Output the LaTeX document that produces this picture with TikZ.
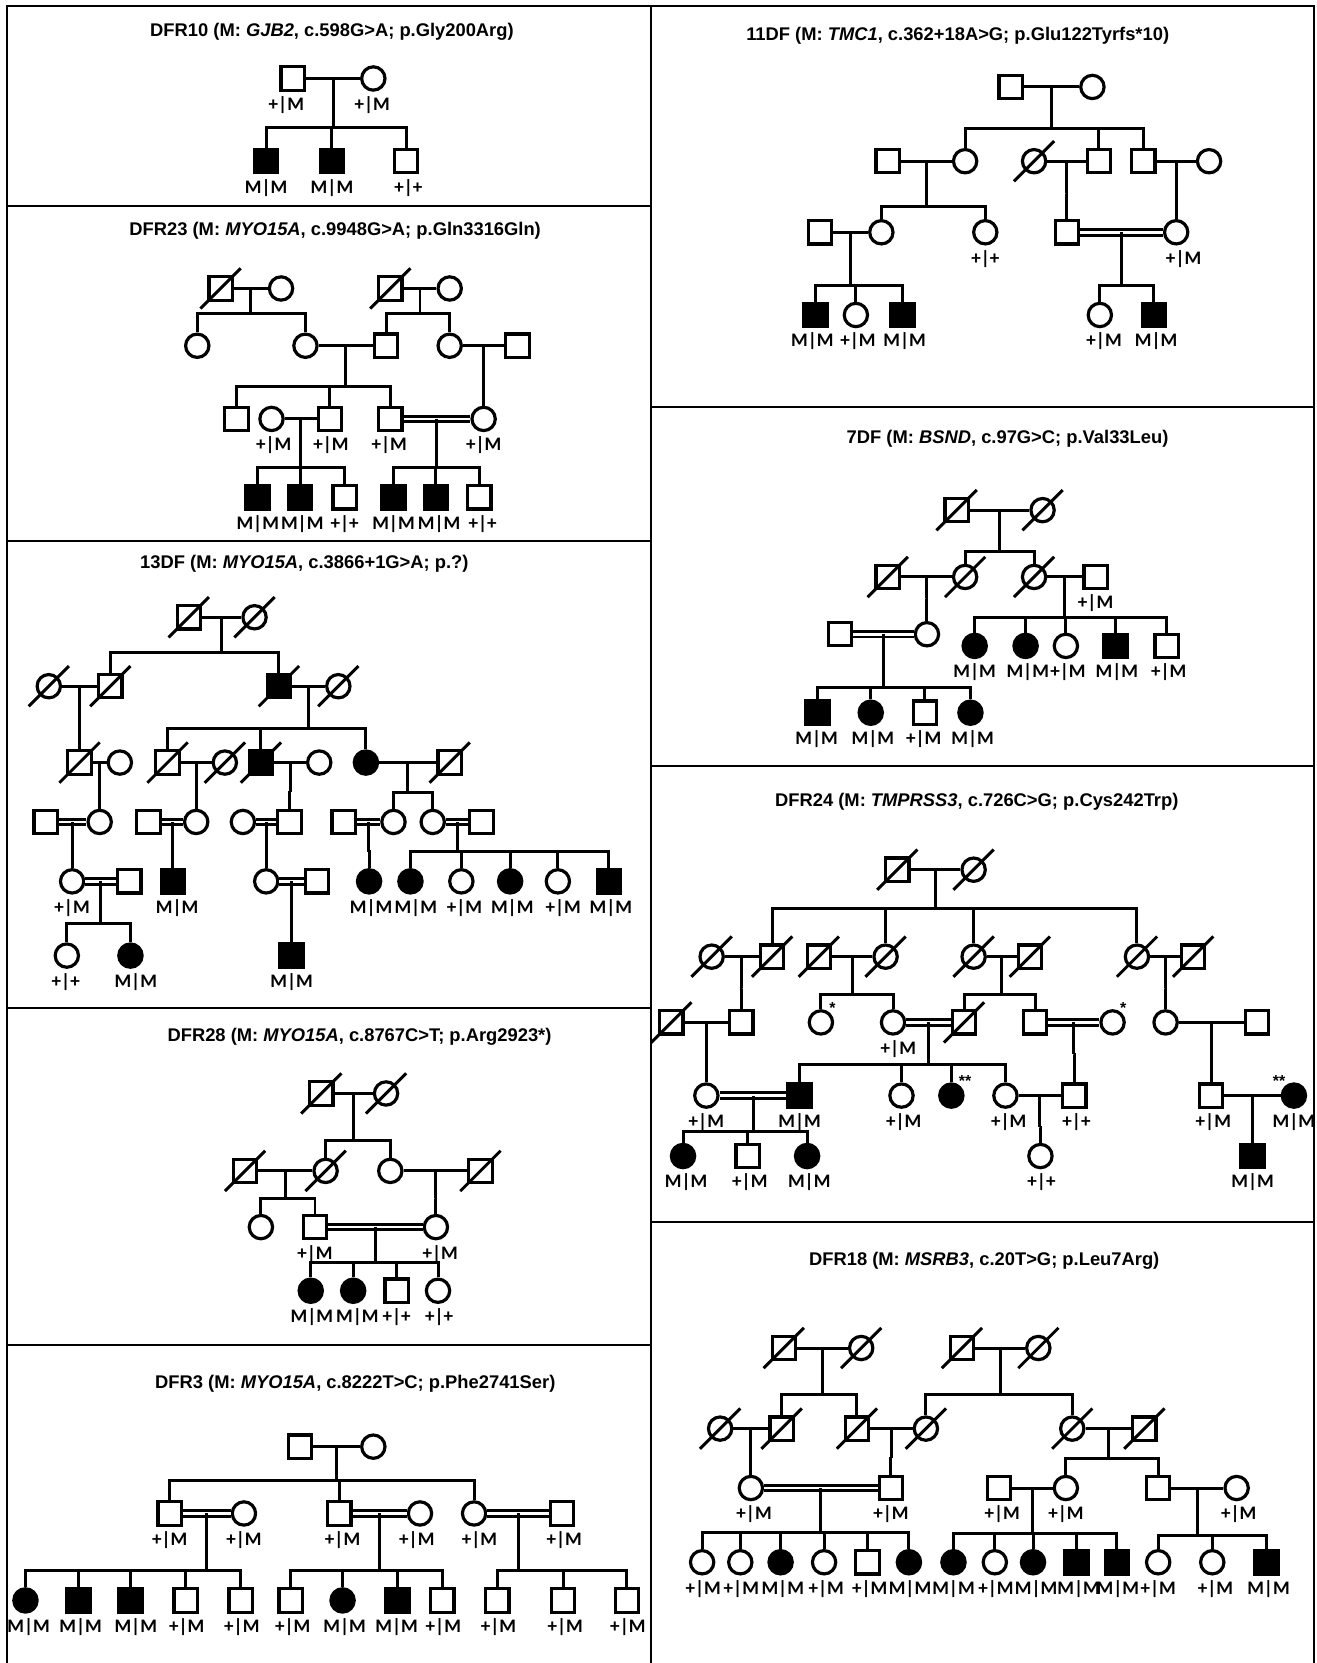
\documentclass[tikz,border=0pt]{standalone}
\usepackage{fontspec}
\newfontfamily\titlefont{Liberation Sans}
\newfontfamily\genofont{Carlito}
\usetikzlibrary{calc}

\tikzset{
  sym/.style={draw,line width=3pt,inner sep=0pt,minimum size=22pt},
  male/.style={sym,rectangle},
  female/.style={sym,circle},
  aff/.style={fill=black},
  dbl/.style={double,double distance=2.4pt},
  frame/.style={line width=2pt},
  geno/.style={inner sep=0pt,font=\genofont\bfseries\fontsize{18}{18}\selectfont},
  astx/.style={inner sep=0pt,font=\titlefont\bfseries\fontsize{15}{15}\selectfont},
  ttl/.style={inner sep=0pt,font=\titlefont\bfseries\fontsize{17.3}{17}\selectfont}
}
% marriage line, with a coordinate at its middle
\newcommand\cpl[3]{\draw (#1) -- node[coordinate] (#3) {} (#2);}
\newcommand\cons[3]{\draw[dbl] (#1) -- node[coordinate] (#3) {} (#2);}
% line of descent: couple point, drop, children
\newcommand\kids[3]{\draw (#1) -- ++(0,#2) coordinate (#1s);
  \foreach \kid in {#3} \draw (\kid) |- (#1s);}
\newcommand\dead[1]{\foreach \who in {#1}
  \draw ([shift={(-19,19)}]\who.center) -- ([shift={(19,-19)}]\who.center);}
\newcommand\geno[3][0]{\node[geno] (#2g) at ($(#2)+(#1,25)$) {#3};}

\begin{document}
\begin{tikzpicture}[x=1pt,y=-1pt,line width=2.8pt]
\fill[white] (0,0) rectangle (1241,1568);
\useasboundingbox (0,0) rectangle (1241,1568);
% panel frames
\draw[frame] (7,1568) -- (7,6) -- (1239,6) -- (1239,1568);
\draw[frame] (614,6) -- (614,1568);
\foreach \y in {194,510,950,1268} \draw[frame] (7,\y) -- (614,\y);
\foreach \y in {384,722,1152} \draw[frame] (614,\y) -- (1239,\y);

% DFR10
\node[ttl] (tA) at (313,30) {DFR10 (M: \textit{GJB2}, c.598G>A; p.Gly200Arg)};
\node[male] (A11) at (276,74) {};
\node[female] (A12) at (352,74) {};
\node[male,aff] (A21) at (251,152) {};
\node[male,aff] (A22) at (313,152) {};
\node[male] (A23) at (383,152) {};
\cpl{A11}{A12}{A1c}
\kids{A1c}{46}{A21,A22,A23}
\geno[-6]{A11}{+|M} \geno[-1]{A12}{+|M}
\geno{A21}{M|M} \geno{A22}{M|M} \geno[2]{A23}{+|+}

% DFR23
\node[ttl] (tB) at (316,218) {DFR23 (M: \textit{MYO15A}, c.9948G>A; p.Gln3316Gln)};
\node[male] (B11) at (208,272) {};
\node[female] (B12) at (265,272) {};
\node[male] (B13) at (368,272) {};
\node[female] (B14) at (424,272) {};
\node[female] (B21) at (186,326) {};
\node[female] (B22) at (288,326) {};
\node[male] (B23) at (364,326) {};
\node[female] (B24) at (424,326) {};
\node[male] (B25) at (488,326) {};
\node[male] (B31) at (223,395) {};
\node[female] (B32) at (256,395) {};
\node[male] (B33) at (311,395) {};
\node[male] (B34) at (368,395) {};
\node[female] (B35) at (456,395) {};
\node[male,aff] (B41) at (243,469) {};
\node[male,aff] (B42) at (283,469) {};
\node[male] (B43) at (325,469) {};
\node[male,aff] (B44) at (371,469) {};
\node[male,aff] (B45) at (411,469) {};
\node[male] (B46) at (452,469) {};
\dead{B11,B13}
\cpl{B11}{B12}{B1c} \cpl{B13}{B14}{B2c}
\cpl{B22}{B23}{B3c} \cpl{B24}{B25}{B4c}
\cpl{B32}{B33}{B5c} \cons{B34}{B35}{B6c}
\kids{B1c}{24}{B21,B22} \kids{B2c}{24}{B23,B24}
\kids{B3c}{38}{B31,B33,B34} \kids{B4c}{35}{B35}
\kids{B5c}{46}{B41,B42,B43} \kids{B6c}{46}{B44,B45,B46}
\geno[2]{B32}{+|M} \geno[1]{B33}{+|M} \geno[-1]{B34}{+|M} \geno{B35}{+|M}
\geno{B41}{M|M} \geno[2]{B42}{M|M} \geno{B43}{+|+}
\geno{B44}{M|M} \geno[3]{B45}{M|M} \geno[3]{B46}{+|+}

% 13DF
\node[ttl] (tC) at (287,532) {13DF (M: \textit{MYO15A}, c.3866+1G>A; p.?)};
\node[male] (C11) at (178,582) {};
\node[female] (C12) at (240,582) {};
\node[female] (C21) at (46,647) {};
\node[male] (C22) at (104,647) {};
\node[male,aff] (C23) at (263,647) {};
\node[female] (C24) at (319,647) {};
\node[male] (C31) at (75,719) {};
\node[female] (C32) at (113,719) {};
\node[male] (C33) at (158,719) {};
\node[female] (C34) at (212,719) {};
\node[male,aff] (C35) at (246,719) {};
\node[female] (C36) at (301,719) {};
\node[female,aff] (C37) at (345,719) {};
\node[male] (C38) at (424,719) {};
\node[male] (C41) at (43,775) {};
\node[female] (C42) at (94,775) {};
\node[male] (C43) at (140,775) {};
\node[female] (C44) at (185,775) {};
\node[female] (C45) at (229,775) {};
\node[male] (C46) at (273,775) {};
\node[male] (C47) at (324,775) {};
\node[female] (C48) at (371,775) {};
\node[female] (C49) at (408,775) {};
\node[male] (C410) at (454,775) {};
\node[female] (C51) at (68,831) {};
\node[male] (C52) at (122,831) {};
\node[male,aff] (C53) at (163,831) {};
\node[female] (C54) at (251,831) {};
\node[male] (C55) at (299,831) {};
\node[female,aff] (C56) at (348,831) {};
\node[female,aff] (C57) at (387,831) {};
\node[female] (C58) at (435,831) {};
\node[female,aff] (C59) at (481,831) {};
\node[female] (C510) at (526,831) {};
\node[male,aff] (C511) at (574,831) {};
\node[female] (C61) at (63,901) {};
\node[female,aff] (C62) at (123,901) {};
\node[male,aff] (C63) at (275,901) {};
\dead{C11,C12,C21,C22,C23,C24,C31,C33,C34,C35,C38}
\cpl{C11}{C12}{C1c} \cpl{C21}{C22}{C2c} \cpl{C23}{C24}{C3c}
\cpl{C31}{C32}{C4c} \cpl{C33}{C34}{C5c} \cpl{C35}{C36}{C6c} \cpl{C37}{C38}{C7c}
\cons{C41}{C42}{C8c} \cons{C43}{C44}{C9c} \cons{C45}{C46}{C10c}
\cons{C47}{C48}{C11c} \cons{C49}{C410}{C12c}
\cons{C51}{C52}{C13c} \cons{C54}{C55}{C14c}
\kids{C1c}{33}{C22,C23} \kids{C2c}{35}{C31} \kids{C3c}{40}{C33,C35,C37}
\kids{C4c}{28}{C42} \kids{C5c}{28}{C44} \kids{C6c}{28}{C46} \kids{C7c}{28}{C48,C49}
\kids{C8c}{28}{C51} \kids{C9c}{28}{C53} \kids{C10c}{28}{C54} \kids{C11c}{28}{C56}
\kids{C12c}{28}{C57,C58,C59,C510,C511}
\kids{C13c}{40}{C61,C62} \kids{C14c}{40}{C63}
\geno{C51}{+|M} \geno[4]{C53}{M|M} \geno[2]{C56}{M|M} \geno[5]{C57}{M|M}
\geno[3]{C58}{+|M} \geno[2]{C59}{M|M} \geno[5]{C510}{+|M} \geno[2]{C511}{M|M}
\geno[-1]{C61}{+|+} \geno[5]{C62}{M|M} \geno{C63}{M|M}

% DFR28
\node[ttl] (tD) at (339,978) {DFR28 (M: \textit{MYO15A}, c.8767C>T; p.Arg2923*)};
\node[male] (D11) at (303,1031) {};
\node[female] (D12) at (364,1031) {};
\node[male] (D21) at (231,1104) {};
\node[female] (D22) at (307,1104) {};
\node[female] (D23) at (368,1104) {};
\node[male] (D24) at (453,1104) {};
\node[female] (D31) at (246,1157) {};
\node[male] (D32) at (297,1157) {};
\node[female] (D33) at (411,1157) {};
\node[female,aff] (D41) at (293,1217) {};
\node[female,aff] (D42) at (333,1217) {};
\node[male] (D43) at (374,1217) {};
\node[female] (D44) at (413,1217) {};
\dead{D11,D12,D21,D22,D24}
\cpl{D11}{D12}{D1c} \cpl{D21}{D22}{D2c} \cpl{D23}{D24}{D3c} \cons{D32}{D33}{D4c}
\kids{D1c}{44}{D22,D23} \kids{D2c}{26}{D31,D32} \kids{D3c}{26}{D33}
\kids{D4c}{33}{D41,D42,D43,D44}
\geno{D32}{+|M} \geno[4]{D33}{+|M}
\geno[1]{D41}{M|M} \geno[4]{D42}{M|M} \geno{D43}{+|+} \geno[1]{D44}{+|+}

% DFR3
\node[ttl] (tE) at (335,1305) {DFR3 (M: \textit{MYO15A}, c.8222T>C; p.Phe2741Ser)};
\node[male] (E11) at (283,1364) {};
\node[female] (E12) at (352,1364) {};
\node[male] (E21) at (160,1427) {};
\node[female] (E22) at (230,1427) {};
\node[male] (E23) at (320,1427) {};
\node[female] (E24) at (396,1427) {};
\node[female] (E25) at (447,1427) {};
\node[male] (E26) at (530,1427) {};
\node[female,aff] (E31) at (24,1509) {};
\node[male,aff] (E32) at (74,1509) {};
\node[male,aff] (E33) at (123,1509) {};
\node[male] (E34) at (175,1509) {};
\node[male] (E35) at (227,1509) {};
\node[male] (E36) at (274,1509) {};
\node[female,aff] (E37) at (323,1509) {};
\node[male,aff] (E38) at (375,1509) {};
\node[male] (E39) at (417,1509) {};
\node[male] (E310) at (469,1509) {};
\node[male] (E311) at (531,1509) {};
\node[male] (E312) at (591,1509) {};
\cpl{E11}{E12}{E1c}
\cons{E21}{E22}{E2c} \cons{E23}{E24}{E3c} \cons{E25}{E26}{E4c}
\kids{E1c}{32}{E21,E23,E25}
\kids{E2c}{54}{E31,E32,E33,E34,E35} \kids{E3c}{54}{E36,E37,E38,E39}
\kids{E4c}{54}{E310,E311,E312}
\geno{E21}{+|M} \geno{E22}{+|M} \geno[3]{E23}{+|M} \geno[-3]{E24}{+|M}
\geno[5]{E25}{+|M} \geno[2]{E26}{+|M}
\geno[3]{E31}{M|M} \geno[2]{E32}{M|M} \geno[5]{E33}{M|M} \geno[1]{E34}{+|M}
\geno[1]{E35}{+|M} \geno[2]{E36}{+|M} \geno[2]{E37}{M|M} \geno[-1]{E38}{M|M}
\geno[1]{E39}{+|M} \geno[1]{E310}{+|M} \geno[2]{E311}{+|M} \geno[1]{E312}{+|M}

% 11DF
\node[ttl] (tF) at (903,34) {11DF (M: \textit{TMC1}, c.362+18A>G; p.Glu122Tyrfs*10)};
\node[male] (F11) at (953,82) {};
\node[female] (F12) at (1030,82) {};
\node[male] (F21) at (837,152) {};
\node[female] (F22) at (910,152) {};
\node[female] (F23) at (975,152) {};
\node[male] (F24) at (1036,152) {};
\node[male] (F25) at (1078,152) {};
\node[female] (F26) at (1140,152) {};
\node[male] (F31) at (773,219) {};
\node[female] (F32) at (831,219) {};
\node[female] (F33) at (929,219) {};
\node[male] (F34) at (1006,219) {};
\node[female] (F35) at (1109,219) {};
\node[male,aff] (F41) at (769,297) {};
\node[female] (F42) at (807,297) {};
\node[male,aff] (F43) at (851,297) {};
\node[female] (F44) at (1037,297) {};
\node[male,aff] (F45) at (1088,297) {};
\dead{F23}
\cpl{F11}{F12}{F1c} \cpl{F21}{F22}{F2c} \cpl{F23}{F24}{F3c} \cpl{F25}{F26}{F4c}
\cpl{F31}{F32}{F5c} \cons{F34}{F35}{F6c}
\kids{F1c}{39}{F22,F24,F25} \kids{F2c}{43}{F32,F33}
\kids{F3c}{30}{F34} \kids{F4c}{30}{F35}
\kids{F5c}{50}{F41,F42,F43} \kids{F6c}{50}{F44,F45}
\geno{F33}{+|+} \geno[7]{F35}{+|M}
\geno[-3]{F41}{M|M} \geno[2]{F42}{+|M} \geno[2]{F43}{M|M}
\geno[4]{F44}{+|M} \geno[2]{F45}{M|M}

% 7DF
\node[ttl] (tG) at (950,414) {7DF (M: \textit{BSND}, c.97G>C; p.Val33Leu)};
\node[male] (G11) at (902,481) {};
\node[female] (G12) at (983,481) {};
\node[male] (G21) at (837,544) {};
\node[female] (G22) at (910,544) {};
\node[female] (G23) at (975,544) {};
\node[male] (G24) at (1033,544) {};
\node[male] (G31) at (792,598) {};
\node[female] (G32) at (874,598) {};
\node[female,aff] (G33) at (919,609) {};
\node[female,aff] (G34) at (967,609) {};
\node[female] (G35) at (1005,609) {};
\node[male,aff] (G36) at (1052,609) {};
\node[male] (G37) at (1100,609) {};
\node[male,aff] (G41) at (771,672) {};
\node[female,aff] (G42) at (821,672) {};
\node[male] (G43) at (872,672) {};
\node[female,aff] (G44) at (915,672) {};
\dead{G11,G12,G21,G22,G23}
\cpl{G11}{G12}{G1c} \cpl{G21}{G22}{G2c} \cpl{G23}{G24}{G3c} \cons{G31}{G32}{G4c}
\kids{G1c}{39}{G22,G23} \kids{G2c}{20}{G32}
\kids{G3c}{38}{G33,G34,G35,G36,G37} \kids{G4c}{50}{G41,G42,G43,G44}
\geno{G24}{+|M}
\geno{G33}{M|M} \geno[2]{G34}{M|M} \geno[2]{G35}{+|M} \geno[1]{G36}{M|M} \geno[2]{G37}{+|M}
\geno[-1]{G41}{M|M} \geno[2]{G42}{M|M} \geno[-1]{G43}{+|M} \geno[2]{G44}{M|M}

% DFR24
\node[ttl] (tH) at (921,756) {DFR24 (M: \textit{TMPRSS3}, c.726C>G; p.Cys242Trp)};
\node[male] (H11) at (846,820) {};
\node[female] (H12) at (918,820) {};
\node[female] (H21) at (671,902) {};
\node[male] (H22) at (728,902) {};
\node[male] (H23) at (772,902) {};
\node[female] (H24) at (835,902) {};
\node[female] (H25) at (918,902) {};
\node[male] (H26) at (971,902) {};
\node[female] (H27) at (1072,902) {};
\node[male] (H28) at (1125,902) {};
\node[male] (H31) at (633,964) {};
\node[male] (H32) at (699,964) {};
\node[female] (H33) at (774,964) {};
\node[female] (H34) at (842,964) {};
\node[male] (H35) at (909,964) {};
\node[male] (H36) at (976,964) {};
\node[female] (H37) at (1049,964) {};
\node[female] (H38) at (1099,964) {};
\node[male] (H39) at (1185,964) {};
\node[female] (H41) at (666,1033) {};
\node[male,aff] (H42) at (754,1033) {};
\node[female] (H43) at (850,1033) {};
\node[female,aff] (H44) at (897,1033) {};
\node[female] (H45) at (948,1033) {};
\node[male] (H46) at (1013,1033) {};
\node[male] (H47) at (1142,1033) {};
\node[female,aff] (H48) at (1220,1033) {};
\node[female,aff] (H51) at (644,1090) {};
\node[male] (H52) at (705,1090) {};
\node[female,aff] (H53) at (761,1090) {};
\node[female] (H54) at (981,1090) {};
\node[male,aff] (H55) at (1181,1090) {};
\node[astx] (H33s) at (785,950) {*};
\node[astx] (H37s) at (1059,950) {*};
\node[astx] (H44s) at (910,1019) {**};
\node[astx] (H48s) at (1206,1019) {**};
\dead{H11,H12,H21,H22,H23,H24,H25,H26,H27,H28,H31,H35}
\cpl{H11}{H12}{H1c} \cpl{H21}{H22}{H2c} \cpl{H23}{H24}{H3c} \cpl{H25}{H26}{H4c}
\cpl{H27}{H28}{H5c} \cpl{H31}{H32}{H6c} \cons{H34}{H35}{H7c} \cons{H36}{H37}{H8c}
\cpl{H38}{H39}{H9c} \cons{H41}{H42}{H10c} \cpl{H45}{H46}{H11c} \cpl{H47}{H48}{H12c}
\kids{H1c}{37}{H22,H24,H25,H27}
\kids{H2c}{30}{H32} \kids{H3c}{36}{H33,H34} \kids{H4c}{36}{H35,H36} \kids{H5c}{30}{H38}
\kids{H6c}{30}{H41} \kids{H7c}{40}{H42,H43,H44,H45} \kids{H8c}{30}{H46} \kids{H9c}{30}{H47}
\kids{H10c}{34}{H51,H52,H53} \kids{H11c}{30}{H54} \kids{H12c}{30}{H55}
\geno[5]{H34}{+|M}
\geno{H41}{+|M} \geno{H42}{M|M} \geno[2]{H43}{+|M} \geno[3]{H45}{+|M} \geno[2]{H46}{+|+}
\geno[2]{H47}{+|M} \geno{H48}{M|M}
\geno[3]{H51}{M|M} \geno[2]{H52}{+|M} \geno[2]{H53}{M|M} \geno[1]{H54}{+|+} \geno{H55}{M|M}

% DFR18
\node[ttl] (tK) at (928,1189) {DFR18 (M: \textit{MSRB3}, c.20T>G; p.Leu7Arg)};
\node[male] (K11) at (739,1271) {};
\node[female] (K12) at (812,1271) {};
\node[male] (K13) at (907,1271) {};
\node[female] (K14) at (979,1271) {};
\node[female] (K21) at (679,1347) {};
\node[male] (K22) at (737,1347) {};
\node[male] (K23) at (808,1347) {};
\node[female] (K24) at (873,1347) {};
\node[female] (K25) at (1011,1347) {};
\node[male] (K26) at (1079,1347) {};
\node[female] (K31) at (708,1403) {};
\node[male] (K32) at (840,1403) {};
\node[male] (K33) at (942,1403) {};
\node[female] (K34) at (1005,1403) {};
\node[male] (K35) at (1092,1403) {};
\node[female] (K36) at (1166,1403) {};
\node[female] (K41) at (662,1473) {};
\node[female] (K42) at (698,1473) {};
\node[female,aff] (K43) at (736,1473) {};
\node[female] (K44) at (777,1473) {};
\node[male] (K45) at (818,1473) {};
\node[female,aff] (K46) at (857,1473) {};
\node[female,aff] (K47) at (899,1473) {};
\node[female] (K48) at (938,1473) {};
\node[female,aff] (K49) at (974,1473) {};
\node[male,aff] (K410) at (1015,1473) {};
\node[male,aff] (K411) at (1053,1473) {};
\node[female] (K412) at (1092,1473) {};
\node[female] (K413) at (1143,1473) {};
\node[male,aff] (K414) at (1194,1473) {};
\dead{K11,K12,K13,K14,K21,K22,K23,K24,K25,K26}
\cpl{K11}{K12}{K1c} \cpl{K13}{K14}{K2c} \cpl{K21}{K22}{K3c} \cpl{K23}{K24}{K4c}
\cpl{K25}{K26}{K5c} \cons{K31}{K32}{K6c} \cpl{K33}{K34}{K7c} \cpl{K35}{K36}{K8c}
\kids{K1c}{44}{K22,K23} \kids{K2c}{44}{K24,K25}
\kids{K3c}{28}{K31} \kids{K4c}{28}{K32} \kids{K5c}{28}{K34,K35}
\kids{K6c}{42}{K41,K42,K43,K44,K45,K46}
\kids{K7c}{43}{K47,K48,K49,K410,K411}
\kids{K8c}{45}{K412,K413,K414}
\geno[3]{K31}{+|M} \geno{K32}{+|M} \geno[3]{K33}{+|M} \geno{K34}{+|M} \geno[2]{K36}{+|M}
\geno[1]{K41}{+|M} \geno[1]{K42}{+|M} \geno[2]{K43}{M|M} \geno[2]{K44}{+|M}
\geno[2]{K45}{+|M} \geno[1]{K46}{M|M} \geno{K47}{M|M} \geno[1]{K48}{+|M}
\geno[3]{K49}{M|M} \geno[2]{K410}{M|M} \geno[1]{K411}{M|M} \geno{K412}{+|M}
\geno[3]{K413}{+|M} \geno[2]{K414}{M|M}
\end{tikzpicture}
\end{document}
